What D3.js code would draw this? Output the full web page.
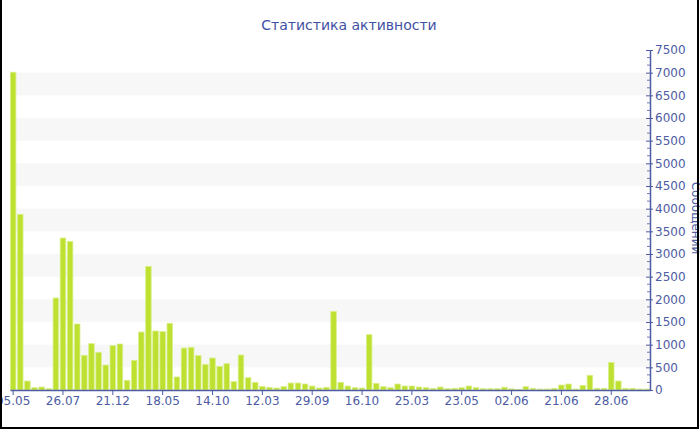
<!DOCTYPE html>
<html><head><meta charset="utf-8">
<script src="https://cdn.jsdelivr.net/npm/d3@7"></script>
<style>body{margin:0;background:#fff}svg{display:block}</style>
</head><body>
<svg id="c" width="700" height="430"></svg>
<script>
const values = [7010,3876,198,51,66,29,2029,3353,3279,1456,765,1022,831,551,978,1015,213,654,1279,2728,1301,1287,1471,287,926,941,757,566,706,522,581,184,772,272,169,81,59,44,74,154,154,132,88,44,59,1735,169,88,51,44,1221,147,74,51,132,88,88,66,51,37,66,29,37,51,88,51,29,29,29,62,25,15,74,37,22,22,37,110,132,22,103,324,37,37,610,198,37,37,22,22];
const tickLabels = ["05.05","26.07","21.12","18.05","14.10","12.03","29.09","16.10","25.03","23.05","02.06","21.06","28.06"];
const tickEvery = 7;
const yTicks = [0,500,1000,1500,2000,2500,3000,3500,4000,4500,5000,5500,6000,6500,7000,7500];
const title = "Статистика активности";
const yTitle = "Сообщений";

const svg = d3.select("#c");
const font = "DejaVu Sans, Verdana, sans-serif";
const blue = "#4d5ca3";
const x = d3.scaleBand().domain(d3.range(values.length)).range([10,650]).paddingInner(0.22).paddingOuter(0.05);
const y = d3.scaleLinear().domain([0,7500]).range([390,50]);

// alternating bands
const bands = yTicks.filter((v,i)=> i%2===1 && v<7500);
svg.append("g").selectAll("rect").data(bands).join("rect")
  .attr("x",10).attr("width",640)
  .attr("y",d=>y(d+500)).attr("height",d=>y(d)-y(d+500))
  .attr("fill","#f7f7f7");

// bars
svg.append("g").selectAll("rect").data(values).join("rect")
  .attr("x",(d,i)=>x(i)).attr("width",x.bandwidth())
  .attr("y",d=>y(d)).attr("height",d=>y(0)-y(d))
  .attr("fill","#bee131").attr("stroke","#d9ef8c").attr("stroke-width",0.8);

// bottom axis
const xAxis = d3.axisBottom(x)
  .tickValues(d3.range(0,values.length,tickEvery))
  .tickFormat(i=>tickLabels[i/tickEvery])
  .tickSize(5).tickSizeOuter(0);
const gx = svg.append("g").attr("transform","translate(0,390)").call(xAxis);
gx.select(".domain").attr("stroke",blue).attr("stroke-width",1.5);
gx.selectAll(".tick line").attr("stroke",blue);
gx.selectAll("text").attr("fill",blue).attr("font-family",font).attr("font-size",12).attr("y",5).attr("dy","0.85em");

// right axis
const minor = d3.range(0,7500,500/3).map(v=>Math.round(v*1000)/1000).filter(v=>!yTicks.some(t=>Math.abs(t-v)<1));
svg.append("g").selectAll("line").data(minor).join("line")
  .attr("x1",647).attr("x2",650).attr("y1",d=>y(d)).attr("y2",d=>y(d))
  .attr("stroke",blue).attr("stroke-opacity",0.8);
const yAxis = d3.axisRight(y).tickValues(yTicks).tickSize(3).tickSizeOuter(0).tickFormat(d3.format("d"));
const gy = svg.append("g").attr("transform","translate(650,0)").call(yAxis);
gy.select(".domain").attr("stroke",blue).attr("stroke-width",1.5);
gy.selectAll(".tick line").attr("x1",-4).attr("stroke",blue);
gy.selectAll("text").attr("fill",blue).attr("font-family",font).attr("font-size",12).attr("x",5);

// titles
svg.append("text").attr("x",349).attr("y",30).attr("text-anchor","middle")
  .attr("font-family",font).attr("font-size",14).attr("fill","#3f51a3").text(title);
svg.append("text").attr("transform","translate(692,218) rotate(90)").attr("text-anchor","middle")
  .attr("font-family",font).attr("font-size",12).attr("fill",blue).text(yTitle);

// frame
svg.append("path").attr("d","M1,0V428H698V0").attr("fill","none").attr("stroke","#000").attr("stroke-width",2);
</script>
</body></html>
